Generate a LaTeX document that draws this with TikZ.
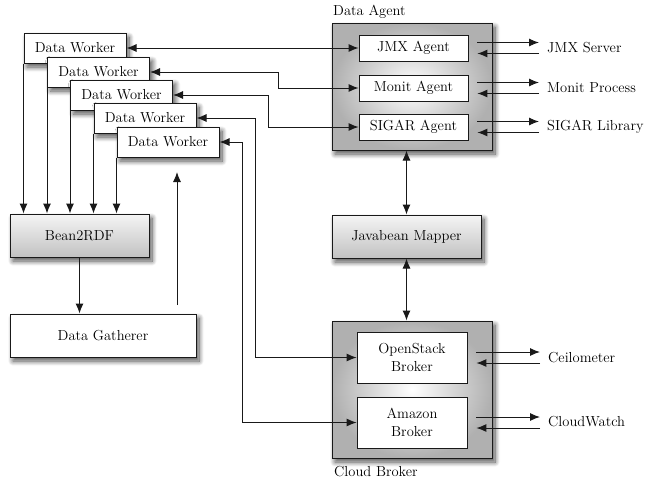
\documentclass[tikz,border=0pt]{standalone}
\usetikzlibrary{arrows.meta,shadows.blur,shadings}
\begin{document}
\begin{tikzpicture}[x=1pt,y=-1pt,
  font=\fontsize{14.5}{17}\selectfont,
  >={Latex[length=10pt,width=8pt]},
  conn/.style={line width=1pt, draw=black!90},
  shad/.style={blur shadow={shadow xshift=3pt, shadow yshift=-4pt, shadow blur radius=5pt, shadow blur steps=10, shadow opacity=70}},
  worker/.style={draw=black!90, line width=1pt, fill=white, minimum width=102pt, minimum height=30pt, inner sep=0pt, shad},
  flatbox/.style={draw=black!90, line width=1pt, inner sep=0pt, shad, top color=gray!8, bottom color=gray!48},
  plainbox/.style={draw=black!90, line width=1pt, fill=white, inner sep=0pt, shad},
  group/.style={draw=black!90, line width=1pt, inner sep=0pt, shad, shading=radial, inner color=white, outer color=gray!62},
  agent/.style={draw=black!90, line width=0.8pt, fill=white, inner sep=0pt, minimum width=109pt, minimum height=26pt, align=center},
  ext/.style={anchor=west, inner sep=0pt}
]
\useasboundingbox (0,0) rectangle (646,480);

% stack of data workers
\node[worker] (dw1) at (75,48) {Data Worker};
\node[worker] (dw2) at (98.5,72) {Data Worker};
\node[worker] (dw3) at (121.5,95) {Data Worker};
\node[worker] (dw4) at (145,118) {Data Worker};
\node[worker] (dw5) at (168,142) {Data Worker};

% left column
\node[flatbox, minimum width=139pt, minimum height=43pt] (b2r) at (79.5,235.5) {Bean2RDF};
\node[plainbox, minimum width=186pt, minimum height=43pt] (dg) at (103,335.5) {Data Gatherer};

% data agent group
\node[group, minimum width=160pt, minimum height=127pt] (da) at (412,86.5) {};
\node[ext] (dalabel) at (333,12) {Data Agent};
\node[agent] (jmx) at (413.5,48) {JMX Agent};
\node[agent] (monit) at (413.5,88) {Monit Agent};
\node[agent] (sigar) at (413.5,127) {SIGAR Agent};

% mapper
\node[flatbox, minimum width=149pt, minimum height=43pt] (jb) at (406.5,236.5) {Javabean Mapper};

% cloud broker group
\node[group, minimum width=160pt, minimum height=137pt] (cb) at (412,389.5) {};
\node[ext] (cblabel) at (334,472) {Cloud Broker};
\node[agent, minimum width=110pt, minimum height=51pt, font=\fontsize{14.5}{18}\selectfont] (os) at (412,357.5) {OpenStack\\Broker};
\node[agent, minimum width=110pt, minimum height=51pt, font=\fontsize{14.5}{18}\selectfont] (am) at (412,422.5) {Amazon\\Broker};

% external endpoints
\node[ext] (jmxs) at (547,48) {JMX Server};
\node[ext] (monp) at (547,88) {Monit Process};
\node[ext] (sigl) at (547,127) {SIGAR Library};
\node[ext] (ceil) at (548,358) {Ceilometer};
\node[ext] (cw) at (548,422) {CloudWatch};

% workers feed Bean2RDF
\foreach \w in {dw1,dw2,dw3,dw4,dw5}
  \draw[conn,->] (\w.south west) -- (\w.south west |- b2r.north);
\draw[conn,->] (b2r.south) -- (b2r.south |- dg.north);

% gatherer back up to the workers
\coordinate (up0) at (177,305);
\coordinate (up1) at (177,172);
\draw[conn,->] (up0) -- (up1);

% workers to agents and brokers
\draw[conn,<->] (dw1.east) -- (jmx.west);
\draw[conn,<->] (dw2.east) -| (278,88) -- (monit.west);
\draw[conn,<->] (dw3.east) -| (268,127) -- (sigar.west);
\draw[conn,<->] (dw4.east) -| (255,357.5) -- (os.west);
\draw[conn,<->] (dw5.east) -| (242,422.5) -- (am.west);

% group links
\draw[conn,<->] (jb.north |- da.south) -- (jb.north);
\draw[conn,<->] (jb.south) -- (jb.south |- cb.north);

% external request / response pairs
\foreach \a/\e in {jmx/jmxs,monit/monp,sigar/sigl,os/ceil,am/cw}{
  \draw[conn,->] ([shift={(9,-5.5)}]\a.east) -- ([shift={(-8,-5.5)}]\e.west |- \a.east);
  \draw[conn,->] ([shift={(-8,5.5)}]\e.west |- \a.east) -- ([shift={(9,5.5)}]\a.east);
}
\end{tikzpicture}
\end{document}
